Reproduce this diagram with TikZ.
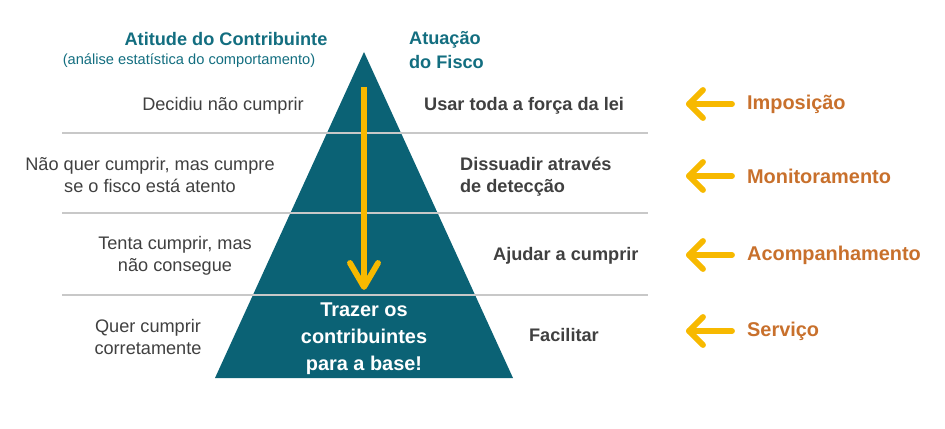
\documentclass[tikz,border=0pt]{standalone}
\usepackage{fontspec}
\setmainfont{Liberation Sans}
\definecolor{tealfill}{HTML}{0B6275}
\definecolor{tealtext}{HTML}{136E80}
\definecolor{orangetext}{HTML}{C8702C}
\definecolor{arrowyellow}{HTML}{F7B900}
\definecolor{gridgray}{HTML}{C8C8C8}
\definecolor{bodytext}{HTML}{404040}
\tikzset{
  attitude/.style={align=center,font=\fontsize{15.5}{19}\selectfont,text=bodytext},
  action/.style={align=left,anchor=west,font=\bfseries\fontsize{15.5}{19}\selectfont,text=bodytext},
  level/.style={anchor=west,font=\bfseries\fontsize{17}{19}\selectfont,text=orangetext},
  chevron/.style={arrowyellow,line width=5pt,line cap=round,line join=round}
}
\begin{document}
\begin{tikzpicture}[x=0.03cm,y=-0.03cm]
    \useasboundingbox (0,0) rectangle (945,429);
    % pyramid
    \fill[tealfill] (364,52) -- (513,378) -- (215,378) -- cycle;
    \foreach \y in {133,213,295}
        \draw[gridgray,line width=1pt] (62,\y) -- (648,\y);
    % downward arrow
    \coordinate (top) at (364,87);
    \coordinate (tip) at (364,287);
    \draw[arrowyellow,line width=5pt] (top) -- (tip);
    \draw[chevron] (350,263) -- (tip) -- (378,263);
    \node[text=white,align=center,font=\bfseries\fontsize{17}{23}\selectfont] (base) at (364,339) {Trazer os\\contribuintes\\para a base!};
    % headers
    \node[text=tealtext,align=center,font=\bfseries\fontsize{15.5}{18}\selectfont] (hleft) at (226,39) {Atitude do Contribuinte};
    \node[text=tealtext,font=\fontsize{12.5}{15}\selectfont] (hleftsub) at (189,61) {(análise estatística do comportamento)};
    \node[text=tealtext,align=left,anchor=west,font=\bfseries\fontsize{15.5}{20}\selectfont] (hright) at (405,50) {Atuação\\do Fisco};
    % attitudes
    \node[attitude] (a1) at (223,106) {Decidiu não cumprir};
    \node[attitude] (a2) at (150,175) {Não quer cumprir, mas cumpre\\se o fisco está atento};
    \node[attitude] (a3) at (175,256) {Tenta cumprir, mas\\não consegue};
    \node[attitude] (a4) at (148,337) {Quer cumprir\\corretamente};
    % actions
    \node[action] (f1) at (420,106) {Usar toda a força da lei};
    \node[action] (f2) at (456,177) {Dissuadir através\\de detecção};
    \node[action] (f3) at (489,256) {Ajudar a cumprir};
    \node[action] (f4) at (525,335) {Facilitar};
    % levels
    \foreach \y/\name/\txt in {104/l1/Imposição,176/l2/Monitoramento,255/l3/Acompanhamento,331/l4/Serviço}{
        \draw[chevron] (703,\y-14) -- (689,\y) -- (703,\y+14);
        \draw[chevron] (689,\y) -- (732,\y);
        \node[level] (\name) at (743,\y) {\txt};
    }
\end{tikzpicture}
\end{document}
